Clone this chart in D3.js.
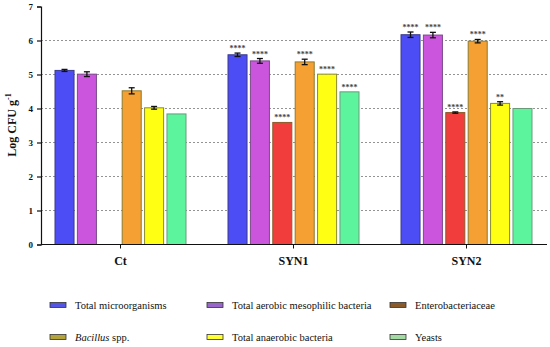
<!DOCTYPE html>
<html><head><meta charset="utf-8">
<script src="https://cdn.jsdelivr.net/npm/d3@7/dist/d3.min.js"></script>
<style>body{margin:0;background:#fff}svg{display:block}svg text{font-family:"Liberation Serif","DejaVu Serif",serif !important}</style>
</head><body><svg id="c" width="550" height="347" font-family="Liberation Serif, DejaVu Serif, serif"></svg>
<script>
const groups = ["Ct", "SYN1", "SYN2"];
const series = ["Total microorganisms", "Total aerobic mesophilic bacteria", "Enterobacteriaceae", "Bacillus spp.", "Total anaerobic bacteria", "Yeasts"];
const ctValues   = [5.12, 5.01, null, 4.52, 4.02, 3.84];
const syn1Values = [5.58, 5.40, 3.59, 5.37, 5.01, 4.49];
const syn2Values = [6.17, 6.16, 3.88, 5.98, 4.15, 4.00];
const ctErr   = [0.03, 0.07, null, 0.09, 0.04, null];
const syn1Err = [0.05, 0.07, null, 0.08, null, null];
const syn2Err = [0.08, 0.08, 0.02, 0.05, 0.05, null];
const ctSig   = ["", "", "", "", "", ""];
const syn1Sig = ["****", "****", "****", "****", "****", "****"];
const syn2Sig = ["****", "****", "****", "****", "**", ""];
const yTicks = [0, 1, 2, 3, 4, 5, 6, 7];
const barFill = ["#4d4df5", "#cc55dd", "#f23d3d", "#f5a032", "#ffff14", "#5cf59e"];
const legendFill = ["#5555e6", "#9966cc", "#8b5a2b", "#b3a33a", "#ffff33", "#a3d9a3"];
const barStroke = ["#3a3a8a", "#7a4a8a", "#8b5a2b", "#8a7a30", "#8a8a30", "#6a9a7a"];

const values = [ctValues, syn1Values, syn2Values];
const errs = [ctErr, syn1Err, syn2Err];
const sigs = [ctSig, syn1Sig, syn2Sig];
const FONT = "Liberation Serif, DejaVu Serif, serif";

const svg = d3.select("#c");
const x0 = 41, x1 = 547, yBase = 244.5, yTop = 6.5;
const y = d3.scaleLinear().domain([0, 7]).range([yBase, yTop]);
const gx = d3.scaleBand().domain(groups).range([34, 553]);
const bx = d3.scaleBand().domain(d3.range(6)).range([-65.5, 65.5]).paddingInner(0.15);

// grid
svg.append("g").selectAll("line").data(yTicks.filter(t => t > 0 && t < 7)).join("line")
  .attr("x1", x0).attr("x2", x1).attr("y1", d => y(d)).attr("y2", d => y(d))
  .attr("stroke", "#777").attr("stroke-width", 0.8).attr("stroke-dasharray", "2,2");

// bars
groups.forEach((g, gi) => {
  const cx = gx(g) + gx.bandwidth() / 2;
  const gg = svg.append("g").attr("transform", `translate(${cx},0)`);
  values[gi].forEach((v, si) => {
    if (v == null) return;
    const bxl = bx(si), w = bx.bandwidth();
    gg.append("rect").attr("x", bxl).attr("y", y(v)).attr("width", w).attr("height", yBase - y(v))
      .attr("fill", barFill[si]).attr("stroke", barStroke[si]).attr("stroke-width", 1);
    const e = errs[gi][si];
    const mid = bxl + w / 2;
    let top = y(v);
    if (e != null) {
      const ya = y(v + e), yb = y(v - e);
      gg.append("line").attr("x1", mid).attr("x2", mid).attr("y1", ya).attr("y2", yb).attr("stroke", "#111").attr("stroke-width", 1.3);
      [ya, yb].forEach(yy => gg.append("line").attr("x1", mid - 3).attr("x2", mid + 3).attr("y1", yy).attr("y2", yy).attr("stroke", "#111").attr("stroke-width", 1.3));
      top = ya;
    }
    const s = sigs[gi][si];
    if (s) {
      gg.append("text").attr("x", mid).attr("y", top - 2).attr("text-anchor", "middle")
        .attr("font-family", FONT).attr("font-size", 8).attr("font-weight", "bold").attr("fill", "#444").text(s);
    }
  });
});

// y axis
const ya = svg.append("g").attr("transform", `translate(${x0},0)`)
  .call(d3.axisLeft(y).tickValues(yTicks).tickSize(4).tickFormat(d3.format("d")));
ya.attr("font-family", FONT);
ya.select(".domain").attr("stroke", "#111").attr("stroke-width", 1.2);
ya.selectAll(".tick line").attr("stroke", "#111").attr("stroke-width", 1.2);
ya.selectAll(".tick text").attr("font-family", FONT).attr("font-weight", "bold").attr("font-size", 9).attr("fill", "#111").attr("dx", -1);

// x axis
const xa = svg.append("g").attr("transform", `translate(0,${yBase})`)
  .call(d3.axisBottom(gx).tickSize(4).tickSizeOuter(0));
xa.attr("font-family", FONT);
xa.select(".domain").attr("d", `M${x0},0H${x1}`).attr("stroke", "#111").attr("stroke-width", 1.2);
xa.selectAll(".tick line").attr("stroke", "#111").attr("stroke-width", 1);
xa.selectAll(".tick text").attr("font-family", FONT).attr("font-weight", "bold").attr("font-size", 12).attr("fill", "#111").attr("dy", "1.1em");

// y label
const yl = svg.append("text").attr("transform", "translate(16,125) rotate(-90)").attr("text-anchor", "middle")
  .attr("font-family", FONT).attr("font-weight", "bold").attr("font-size", 12).attr("fill", "#111");
yl.append("tspan").text("Log CFU g");
yl.append("tspan").attr("font-size", 8).attr("dy", -5).text("-1");

// legend
const legPos = [[50, 305], [207, 305], [390, 305], [50, 337], [207, 337], [390, 337]];
series.forEach((s, i) => {
  const [lx, ly] = legPos[i];
  svg.append("rect").attr("x", lx).attr("y", ly - 2.5).attr("width", 16).attr("height", 5)
    .attr("fill", legendFill[i]).attr("stroke", "#333").attr("stroke-width", 0.8);
  const t = svg.append("text").attr("x", lx + 25).attr("y", ly + 3.5).attr("font-family", FONT).attr("font-size", 10.5).attr("fill", "#111");
  if (i === 3) {
    t.append("tspan").attr("font-style", "italic").text("Bacillus");
    t.append("tspan").text(" spp.");
  } else t.text(s);
});
</script></body></html>
